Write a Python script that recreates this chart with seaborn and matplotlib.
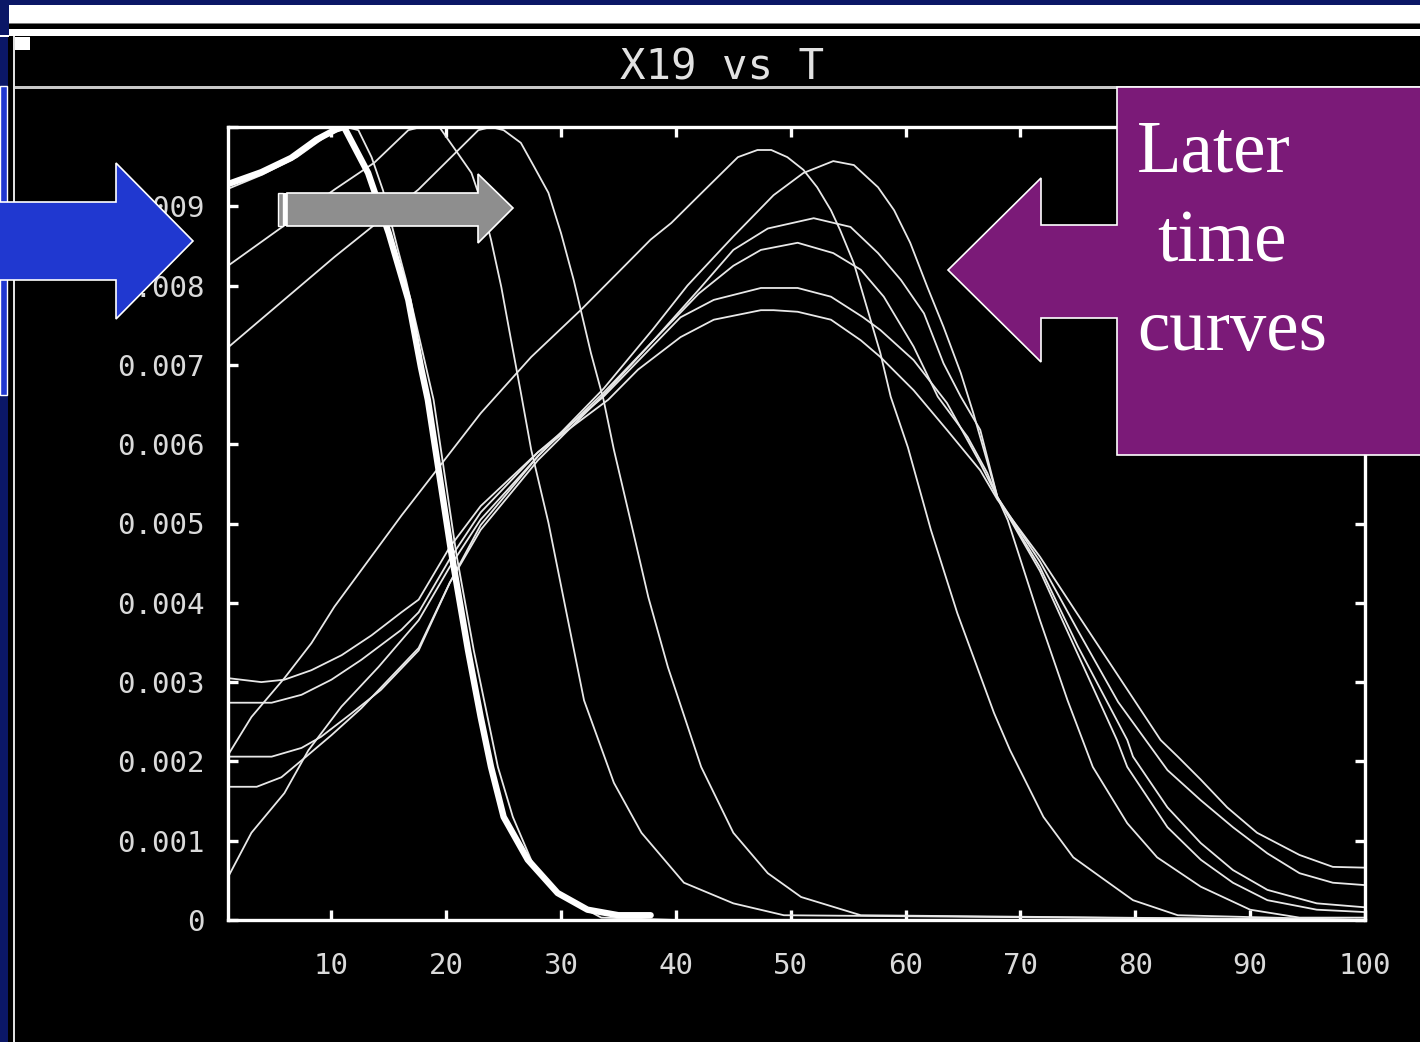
import matplotlib
matplotlib.use("Agg")
import matplotlib.pyplot as plt
from matplotlib.patches import Rectangle, Polygon
import numpy as np
import pandas as pd
import seaborn as sns

# ---------------------------------------------------------------------------
# X19 profiles versus T (values of X19 given in units of 1e-3)
# ---------------------------------------------------------------------------
t_initial = [1, 3.9, 6.5, 8.7, 10.4, 11.1, 13.2, 15.0, 16.7, 17.8, 18.4, 20.4,
             21.9, 23.0, 23.9, 25.0, 27.1, 29.7, 32.3, 35.0, 37.8]
x19_initial = [9.28, 9.43, 9.61, 9.84, 9.97, 10.0, 9.42, 8.66, 7.82, 6.97, 6.56, 4.67,
               3.40, 2.56, 1.93, 1.30, 0.76, 0.34, 0.13, 0.06, 0.06]

t_a = [1, 4, 7, 9.5, 11.3, 12.35, 13.5, 14.5, 15.8, 16.5, 18.9, 20.9, 22.4, 23.6,
       24.5, 25.8, 27.65, 30.0, 33.5, 40, 100]
x19_a = [9.22, 9.40, 9.62, 9.88, 10.0, 9.96, 9.62, 9.20, 8.45, 8.07, 6.56, 4.60, 3.40,
         2.56, 1.93, 1.30, 0.67, 0.30, 0.03, 0.0, 0.0]

t_b = [1, 10.26, 13.74, 16.7, 17.8, 19.4, 21.0, 22.2, 23.0, 23.9, 24.8, 25.65, 26.5,
       27.4, 28.9, 30.2, 32.0, 34.6, 37.0, 40.7, 45.0, 49.4, 100]
x19_b = [8.25, 9.21, 9.55, 9.96, 10.0, 10.0, 9.67, 9.42, 9.08, 8.58, 7.98, 7.31, 6.65,
         5.93, 5.01, 4.07, 2.77, 1.73, 1.10, 0.47, 0.21, 0.06, 0.0]

t_c = [1, 10.26, 17.57, 22.8, 23.9, 25.0, 26.5, 27.65, 28.9, 30.0, 31.1, 32.6, 33.7,
       34.6, 36.3, 37.6, 39.3, 42.2, 45.0, 48.0, 50.9, 56.1, 100]
x19_c = [7.22, 8.36, 9.21, 9.96, 10.0, 9.96, 9.80, 9.50, 9.17, 8.66, 8.07, 7.15, 6.56,
         5.93, 4.88, 4.07, 3.19, 1.93, 1.10, 0.59, 0.29, 0.06, 0.0]

t_d = [1, 3.04, 5.91, 8.26, 10.26, 16.1, 23.0, 27.4, 31.7, 35.2, 37.8, 39.6, 41.9,
       43.65, 45.4, 47.1, 48.3, 49.7, 51.1, 52.3, 53.5, 54.3, 55.5, 56.7, 57.8, 58.7,
       60.2, 62.2, 64.5, 67.7, 69.1, 72.0, 74.6, 77.0, 79.8, 83.7, 100]
x19_d = [2.08, 2.56, 3.05, 3.49, 3.95, 5.10, 6.39, 7.10, 7.69, 8.20, 8.58, 8.79, 9.12,
         9.37, 9.62, 9.71, 9.71, 9.62, 9.46, 9.24, 8.95, 8.70, 8.28, 7.69, 7.15, 6.60,
         5.96, 4.92, 3.87, 2.61, 2.14, 1.30, 0.79, 0.54, 0.25, 0.06, 0.0]

t_e = [1, 3.04, 5.91, 8.0, 10.87, 14.1, 17.6, 20.3, 23.0, 28.0, 33.7, 38.0, 41.0, 43.9,
       45.0, 48.5, 51.1, 53.7, 55.5, 57.6, 59.0, 60.4, 61.9, 63.3, 64.8, 65.9, 68.0,
       68.9, 71.7, 74.1, 76.3, 79.3, 81.9, 85.7, 90.0, 94.3, 100]
x19_e = [0.54, 1.10, 1.60, 2.14, 2.69, 3.19, 3.78, 4.45, 5.05, 5.85, 6.70, 7.45, 8.0,
         8.45, 8.62, 9.14, 9.42, 9.57, 9.52, 9.24, 8.95, 8.54, 7.98, 7.48, 6.90, 6.39,
         5.33, 5.04, 3.78, 2.77, 1.93, 1.22, 0.79, 0.42, 0.13, 0.03, 0.03]

t_f = [1, 3.5, 5.65, 7.8, 10.0, 12.6, 17.6, 20.3, 23.0, 28.0, 33.7, 38.0, 42.0, 45.0,
       48.0, 52.0, 55.2, 57.6, 59.6, 61.6, 63.3, 64.8, 66.5, 68.0, 71.7, 75.0, 78.4,
       79.3, 82.8, 85.7, 88.5, 91.5, 95.8, 100]
x19_f = [1.68, 1.68, 1.80, 2.06, 2.33, 2.67, 3.43, 4.25, 4.92, 5.80, 6.62, 7.30, 7.95,
         8.45, 8.72, 8.85, 8.74, 8.41, 8.07, 7.65, 7.02, 6.60, 6.18, 5.33, 4.40, 3.35,
         2.27, 1.93, 1.17, 0.76, 0.47, 0.25, 0.13, 0.10]

t_g = [1, 4.8, 7.4, 9.1, 11.7, 14.3, 17.6, 20.3, 23.0, 28.0, 33.7, 38.0, 42.0, 45.0,
       47.4, 50.6, 53.7, 56.1, 58.1, 60.7, 62.8, 65.4, 67.1, 68.0, 71.7, 75.0, 79.3,
       79.8, 82.8, 85.7, 88.5, 91.5, 95.8, 100]
x19_g = [2.06, 2.06, 2.17, 2.31, 2.60, 2.90, 3.40, 4.25, 4.98, 5.85, 6.65, 7.30, 7.90,
         8.25, 8.45, 8.54, 8.41, 8.20, 7.86, 7.23, 6.60, 6.09, 5.64, 5.33, 4.45, 3.45,
         2.27, 2.06, 1.42, 0.97, 0.63, 0.38, 0.21, 0.16]

t_h = [1, 4.8, 7.4, 10.0, 12.6, 16.1, 17.6, 20.3, 23.0, 28.0, 33.7, 40.4, 43.3, 47.4,
       48.9, 50.6, 53.5, 56.3, 57.8, 60.7, 63.6, 66.5, 68.0, 71.7, 75.0, 78.5, 82.8,
       85.7, 88.5, 91.5, 94.3, 97.2, 100]
x19_h = [2.74, 2.74, 2.84, 3.03, 3.28, 3.66, 3.88, 4.55, 5.14, 5.90, 6.60, 7.60, 7.82,
         7.97, 7.97, 7.97, 7.86, 7.60, 7.44, 7.06, 6.52, 5.76, 5.33, 4.52, 3.65, 2.75,
         1.89, 1.51, 1.17, 0.84, 0.59, 0.47, 0.44]

t_i = [1, 3.9, 5.9, 8.26, 10.9, 13.5, 16.1, 17.6, 20.3, 23.0, 28.0, 34.1, 36.7, 40.4,
       43.3, 47.4, 48.5, 50.6, 53.5, 56.1, 57.8, 60.7, 63.6, 66.5, 68.0, 71.7, 75.0,
       82.2, 83.7, 85.7, 88.0, 90.6, 94.3, 97.2, 100]
x19_i = [3.05, 3.00, 3.03, 3.15, 3.34, 3.59, 3.88, 4.04, 4.70, 5.22, 5.90, 6.56, 6.94,
         7.35, 7.57, 7.69, 7.69, 7.67, 7.57, 7.31, 7.10, 6.68, 6.18, 5.67, 5.30, 4.58,
         3.85, 2.27, 2.06, 1.77, 1.42, 1.10, 0.82, 0.67, 0.66]

x_ticks = [10, 20, 30, 40, 50, 60, 70, 80, 90, 100]
y_ticks = [0, 0.001, 0.002, 0.003, 0.004, 0.005, 0.006, 0.007, 0.008, 0.009, 0.01]
y_tick_labels = ["0", "0.001", "0.002", "0.003", "0.004", "0.005", "0.006",
                 "0.007", "0.008", "0.009", ""]

profiles = {
    "a": (t_a, x19_a), "b": (t_b, x19_b), "c": (t_c, x19_c), "d": (t_d, x19_d),
    "e": (t_e, x19_e), "f": (t_f, x19_f), "g": (t_g, x19_g), "h": (t_h, x19_h),
    "i": (t_i, x19_i),
}
frames = [pd.DataFrame({"T": t, "X19": np.asarray(v) * 1e-3, "run": k})
          for k, (t, v) in profiles.items()]
df = pd.concat(frames, ignore_index=True)
df_initial = pd.DataFrame({"T": t_initial, "X19": np.asarray(x19_initial) * 1e-3})

# ---------------------------------------------------------------------------
W, H = 1420, 1042
fig = plt.figure(figsize=(W / 100, H / 100), dpi=100)
fig.patch.set_facecolor("black")


def rect(x0, y0, x1, y1, color, z=-2, **kw):
    fig.add_artist(Rectangle((x0 / W, 1 - y1 / H), (x1 - x0) / W, (y1 - y0) / H,
                             transform=fig.transFigure, facecolor=color,
                             edgecolor=kw.pop("ec", "none"), lw=kw.pop("lw", 0),
                             zorder=z, **kw))


def poly(points, color, z=5, ec="white", lw=1.2):
    fig.add_artist(Polygon([(x / W, 1 - y / H) for x, y in points], closed=True,
                           transform=fig.transFigure, facecolor=color,
                           edgecolor=ec, lw=lw, zorder=z))


# slide frame and window decorations
navy = "#0B1766"
rect(0, 0, W, 5, navy)
rect(0, 0, 9, 35, navy)
rect(0, 35, 9, 37, "white")
rect(0, 37, 8, 86, navy)
rect(0, 395, 8, H, navy)
rect(9, 5, W, 23, "white")
rect(9, 23, W, 24, "#7A7A7A")
rect(9, 29, W, 36, "white")
rect(13, 36, 15, H, "#E0E0E0")
rect(15, 37, 30, 50, "white")
rect(15, 86, W, 89, "#C8C8C8")

fig.text(722 / W, 1 - 80 / H, "X19 vs T", ha="center", va="baseline",
         family="DejaVu Sans Mono", fontsize=30.5, color="#E2E2E2")

# ---------------------------------------------------------------------------
ax = fig.add_axes([228 / W, 1 - 920 / H, (1365 - 228) / W, (920 - 127) / H])
ax.set_facecolor("black")

sns.lineplot(data=df, x="T", y="X19", units="run", estimator=None,
             color="#E8E8E8", linewidth=1.3, legend=False, ax=ax)
sns.lineplot(data=df_initial, x="T", y="X19", color="white", linewidth=4.6,
             legend=False, ax=ax, solid_capstyle="round", solid_joinstyle="round")

ax.set_xlim(1, 100)
ax.set_ylim(0, 0.01)
ax.set_xticks(x_ticks)
ax.set_xticklabels([str(v) for v in x_ticks])
ax.set_yticks(y_ticks)
ax.set_yticklabels(y_tick_labels)
ax.set_xlabel("")
ax.set_ylabel("")
for s in ax.spines.values():
    s.set_color("white")
    s.set_linewidth(2.4)
ax.tick_params(direction="in", length=7, width=2.4, color="white",
               labelcolor="#DADADA", top=True, right=True, labelsize=21)
ax.tick_params(axis="y", pad=17)
ax.tick_params(axis="x", pad=23)
for lab in ax.get_xticklabels() + ax.get_yticklabels():
    lab.set_family("DejaVu Sans Mono")

# ---------------------------------------------------------------------------
# callouts
rect(0, 86, 7, 395, "#2038D0", z=4, ec="white", lw=1.0)
poly([(-5, 202), (116, 202), (116, 163), (193, 241), (116, 319), (116, 280),
      (-5, 280)], "#2038D0")

poly([(287, 193), (478, 193), (478, 174), (513, 208), (478, 243), (478, 226),
      (287, 226)], "#8E8E8E")
rect(278, 193, 283, 226, "#8E8E8E", z=6, ec="white", lw=1.0)
rect(283, 193, 287, 226, "white", z=6)

purple = "#7B1A78"
poly([(1117, 87), (W + 5, 87), (W + 5, 455), (1117, 455), (1117, 318), (1041, 318),
      (1041, 362), (948, 270), (1041, 178), (1041, 225), (1117, 225)], purple,
     ec="white", lw=1.2)
for txt, x0, yb in [("Later", 1137, 171), ("time", 1157, 262), ("curves", 1137, 350)]:
    fig.text(x0 / W, 1 - yb / H, txt, ha="left", va="baseline",
             family="Liberation Serif", fontsize=52.5, color="white", zorder=7)

fig.savefig("out.png", dpi=100, facecolor=fig.get_facecolor())
